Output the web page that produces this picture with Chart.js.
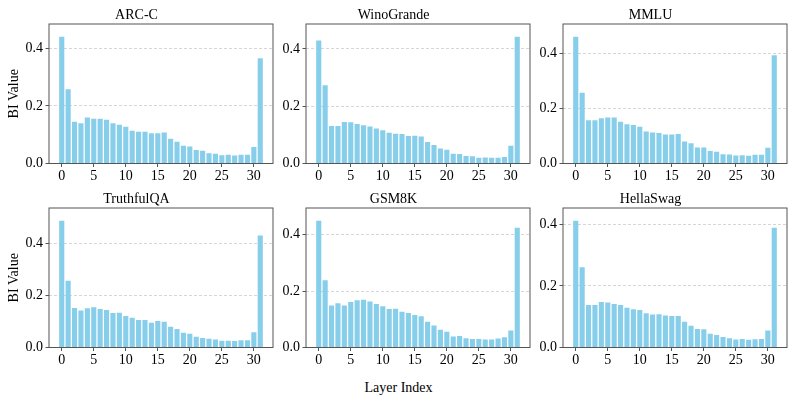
<!DOCTYPE html>
<html>
<head>
<meta charset="utf-8">
<script src="https://cdn.jsdelivr.net/npm/chart.js@4.4.0/dist/chart.umd.min.js"></script>
<style>
  body { margin: 0; background: #fff; }
  #fig { position: relative; width: 797px; height: 399px; overflow: hidden; background: #fff; }
  #fig canvas { position: absolute; }
  #xlabel { position: absolute; left: 0; width: 797px; top: 380px; text-align: center;
            font-family: "Liberation Serif"; font-size: 14px; line-height: 16px; color: #000; }
</style>
</head>
<body>
<div id="fig">
  <canvas id="c0" width="281" height="190"></canvas>
  <canvas id="c1" width="281" height="190"></canvas>
  <canvas id="c2" width="281" height="190"></canvas>
  <canvas id="c3" width="281" height="190"></canvas>
  <canvas id="c4" width="281" height="190"></canvas>
  <canvas id="c5" width="281" height="190"></canvas>
  <div id="xlabel">Layer Index</div>
</div>
<script>
// layer index 0..31
let layers = [0,1,2,3,4,5,6,7,8,9,10,11,12,13,14,15,16,17,18,19,20,21,22,23,24,25,26,27,28,29,30,31];
let xTicks = [0, 5, 10, 15, 20, 25, 30];
let yTicks = [0, 0.2, 0.4];

let arcC = [0.441,0.258,0.145,0.140,0.160,0.156,0.156,0.152,0.140,0.135,0.128,0.114,0.110,0.110,0.105,0.105,
            0.108,0.086,0.076,0.062,0.059,0.047,0.044,0.036,0.034,0.029,0.030,0.028,0.030,0.030,0.057,0.366];
let winoGrande = [0.430,0.273,0.131,0.131,0.145,0.144,0.138,0.134,0.129,0.122,0.116,0.107,0.104,0.103,0.096,0.097,
                  0.094,0.075,0.065,0.052,0.048,0.034,0.033,0.026,0.025,0.020,0.021,0.020,0.020,0.023,0.062,0.443];
let mmlu = [0.460,0.257,0.157,0.157,0.164,0.167,0.167,0.151,0.142,0.140,0.133,0.116,0.112,0.111,0.105,0.105,
            0.107,0.080,0.073,0.058,0.058,0.045,0.043,0.034,0.033,0.029,0.030,0.028,0.032,0.032,0.057,0.393];
let truthfulQA = [0.489,0.257,0.152,0.143,0.151,0.155,0.148,0.145,0.133,0.134,0.121,0.115,0.106,0.106,0.095,0.102,
                  0.099,0.080,0.071,0.057,0.053,0.041,0.037,0.034,0.031,0.026,0.026,0.025,0.028,0.028,0.059,0.432];
let gsm8k = [0.449,0.238,0.149,0.157,0.149,0.161,0.167,0.169,0.163,0.154,0.146,0.136,0.137,0.127,0.122,0.115,
             0.111,0.091,0.078,0.063,0.056,0.039,0.041,0.033,0.030,0.030,0.028,0.028,0.032,0.036,0.060,0.424];
let hellaSwag = [0.412,0.261,0.138,0.138,0.148,0.146,0.141,0.138,0.129,0.124,0.122,0.111,0.107,0.108,0.104,0.102,
                 0.102,0.084,0.071,0.060,0.059,0.045,0.041,0.034,0.030,0.026,0.028,0.025,0.027,0.028,0.055,0.389];

let titles = ['ARC-C', 'WinoGrande', 'MMLU', 'TruthfulQA', 'GSM8K', 'HellaSwag'];
let series = [arcC, winoGrande, mmlu, truthfulQA, gsm8k, hellaSwag];

// plot area positions in the figure
let colLeft = [49.3, 306, 563.3];
let rowTop = [24.3, 207.5];
let yAxisW = 49, titleH = 24, xAxisH = 26.5;

const frame = {
  id: 'frame',
  afterDatasetsDraw(chart) {
    let a = chart.chartArea, ctx = chart.ctx;
    ctx.save();
    ctx.strokeStyle = '#555';
    ctx.lineWidth = 1;
    ctx.strokeRect(a.left, a.top, a.right - a.left, a.bottom - a.top);
    ctx.restore();
  }
};

function drawPanel(i) {
  let col = i % 3, row = Math.floor(i / 3);
  let canvas = document.getElementById('c' + i);
  canvas.style.left = (colLeft[col] - yAxisW) + 'px';
  canvas.style.top = (rowTop[row] - titleH) + 'px';
  let data = series[i];
  let font = { family: 'Liberation Serif', size: 14 };

  new Chart(canvas.getContext('2d'), {
    type: 'bar',
    data: {
      labels: layers,
      datasets: [{
        data: data,
        backgroundColor: '#87CEEB',
        borderWidth: 0,
        barPercentage: 0.8,
        categoryPercentage: 1
      }]
    },
    options: {
      responsive: false,
      animation: false,
      layout: { padding: { left: 0, right: 8, top: 0, bottom: 0 } },
      plugins: {
        legend: { display: false },
        tooltip: { enabled: false },
        title: {
          display: true,
          text: titles[i],
          color: '#000',
          font: { family: 'Liberation Serif', size: 14, weight: 'normal', lineHeight: 1.2 },
          padding: { top: 7, bottom: 0.2 }
        }
      },
      scales: {
        x: {
          type: 'linear',
          offset: false,
          min: -1.99,
          max: 32.99,
          afterBuildTicks: s => { s.ticks = xTicks.map(v => ({ value: v })) },
          afterFit: s => { s.height = xAxisH },
          ticks: { color: '#000', font: font, padding: 0.5, maxRotation: 0 },
          grid: { offset: false, drawOnChartArea: false, drawTicks: true, tickLength: 3.5, tickColor: '#555', tickWidth: 1 },
          border: { display: false }
        },
        y: {
          min: 0,
          max: Math.max(...data) * 1.1,
          afterBuildTicks: s => { s.ticks = yTicks.map(v => ({ value: v })) },
          afterFit: s => { s.width = yAxisW },
          ticks: { color: '#000', font: font, padding: 2.5, callback: v => v.toFixed(1) },
          grid: { color: '#cccccc', lineWidth: 0.8, tickLength: 3.5, tickColor: '#555', tickWidth: 1 },
          border: { display: false, dash: [3, 2] },
          title: {
            display: col === 0,
            text: 'BI Value',
            color: '#000',
            font: { family: 'Liberation Serif', size: 14, lineHeight: 1.2 },
            padding: { top: 6.3, bottom: 0 }
          }
        }
      }
    },
    plugins: [frame]
  });
}

for (let i = 0; i < 6; i++) {
  drawPanel(i)
}
</script>
</body>
</html>
